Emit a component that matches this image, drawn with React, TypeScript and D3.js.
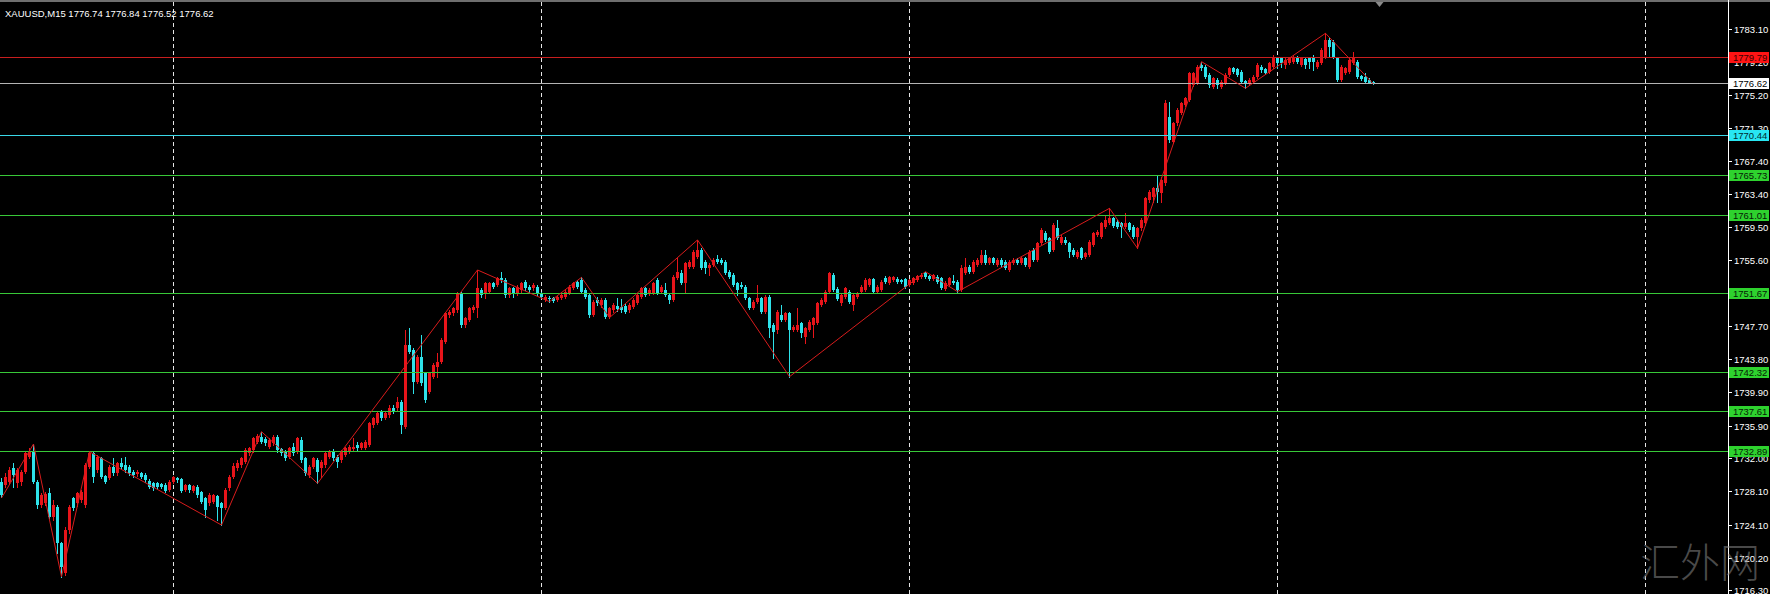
import React from 'react';
import * as d3 from 'd3';

// ---- data -------------------------------------------------------------
const symbol = 'XAUUSD';
const timeframe = 'M15';

const opens = [
  1729.24,1728.84,1729.24,1730.83,1729.04,1729.24,1730.43,1732.21,1732.81,1729.24,
  1726.46,1726.66,1727.85,1725.08,1726.27,1721.90,1718.34,1723.49,1727.26,1726.66,
  1727.06,1726.46,1731.02,1732.61,1730.63,1732.02,1729.91,1729.64,1731.02,1730.23,
  1731.42,1731.22,1731.02,1730.43,1730.15,1730.31,1730.03,1729.36,1729.04,1729.04,
  1728.92,1728.84,1728.25,1729.24,1729.64,1729.52,1728.25,1728.84,1728.17,1728.65,
  1728.05,1727.26,1726.66,1726.86,1727.54,1726.66,1726.07,1728.45,1729.83,1730.83,
  1731.22,1731.62,1732.61,1733.01,1733.99,1734.59,1734.27,1733.40,1733.80,1734.59,
  1733.09,1732.81,1732.21,1733.40,1732.81,1734.20,1732.02,1730.03,1731.02,1731.82,
  1730.83,1731.22,1732.21,1732.81,1732.21,1731.82,1732.41,1732.81,1733.09,1733.60,
  1733.20,1733.20,1733.60,1735.98,1736.18,1737.57,1736.77,1737.17,1737.96,1737.96,
  1738.75,1735.78,1745.50,1744.90,1741.13,1744.11,1742.13,1739.95,1741.73,1742.92,
  1743.51,1745.89,1749.06,1749.26,1749.66,1751.64,1747.87,1748.47,1749.66,1749.86,
  1752.04,1751.64,1751.84,1752.83,1752.63,1753.43,1753.23,1751.44,1752.24,1751.64,
  1752.04,1753.03,1752.43,1752.24,1752.43,1751.64,1750.85,1751.13,1751.05,1750.85,
  1751.05,1751.25,1751.64,1752.24,1753.03,1753.23,1752.04,1751.44,1749.06,1750.85,
  1750.25,1750.85,1748.87,1749.66,1750.13,1750.06,1750.13,1749.66,1750.06,1750.45,
  1751.25,1752.24,1751.64,1751.64,1753.23,1751.84,1752.04,1751.44,1750.85,1753.43,
  1754.02,1752.83,1754.81,1754.81,1756.00,1756.80,1755.41,1754.62,1755.01,1755.69,
  1755.61,1755.41,1754.22,1753.82,1752.83,1752.63,1752.43,1751.05,1749.86,1750.65,
  1751.05,1749.46,1751.25,1747.88,1747.28,1749.06,1748.47,1749.26,1747.28,1747.28,
  1748.07,1746.49,1747.28,1747.88,1748.07,1750.25,1750.65,1751.84,1753.82,1752.20,
  1750.45,1751.24,1751.84,1750.25,1751.24,1751.84,1752.04,1752.63,1753.31,1751.84,
  1752.04,1753.43,1752.91,1753.23,1753.31,1753.23,1753.31,1752.63,1752.83,1753.23,
  1753.54,1754.02,1753.70,1753.31,1753.62,1753.43,1752.12,1752.63,1753.15,1753.03,
  1752.04,1754.02,1754.81,1754.22,1755.01,1755.21,1756.20,1755.21,1755.80,1755.01,
  1755.61,1755.41,1754.42,1755.21,1755.61,1755.21,1755.80,1754.81,1756.80,1755.61,
  1757.59,1758.86,1758.18,1756.80,1759.37,1757.59,1757.98,1757.59,1756.80,1756.00,
  1756.99,1756.00,1756.20,1757.39,1758.58,1758.38,1759.57,1759.97,1760.56,1760.17,
  1759.97,1759.57,1759.97,1759.57,1758.38,1759.37,1759.97,1762.74,1763.14,1764.13,
  1763.54,1764.73,1772.66,1769.68,1771.86,1773.05,1774.04,1774.64,1776.42,1776.62,
  1778.80,1778.60,1777.61,1776.23,1777.02,1776.23,1776.62,1777.61,1778.41,1778.29,
  1778.01,1776.90,1776.62,1776.82,1777.42,1778.60,1778.29,1778.01,1778.60,1779.60,
  1779.60,1778.80,1779.00,1779.20,1779.71,1778.80,1779.48,1779.60,1779.60,1778.60,
  1779.00,1779.79,1781.78,1781.58,1779.60,1777.02,1777.81,1778.01,1779.00,1779.20,
  1777.49,1777.34,1777.02,1776.74,
];

const highs = [
  1729.64,1730.23,1731.02,1731.42,1730.83,1730.63,1732.81,1733.20,1733.72,1729.44,
  1727.85,1728.05,1728.45,1727.06,1726.46,1722.10,1723.89,1726.46,1727.46,1728.05,
  1728.25,1731.42,1732.81,1732.81,1732.41,1732.21,1730.03,1731.22,1732.02,1731.62,
  1732.02,1732.13,1731.22,1730.63,1730.63,1730.43,1730.23,1729.52,1729.20,1729.24,
  1729.04,1729.04,1729.44,1729.91,1729.76,1729.64,1728.96,1728.96,1728.84,1728.80,
  1728.17,1727.46,1727.85,1727.77,1727.69,1726.86,1728.45,1730.03,1731.42,1731.82,
  1732.21,1733.20,1733.40,1734.59,1734.91,1735.19,1734.59,1734.39,1734.75,1734.79,
  1733.24,1733.01,1733.40,1733.88,1734.59,1734.59,1732.21,1731.22,1732.21,1732.02,
  1731.82,1732.81,1733.01,1733.09,1732.41,1733.01,1733.40,1733.60,1734.39,1733.99,
  1733.96,1734.20,1736.38,1736.97,1737.57,1737.76,1737.57,1738.36,1738.36,1739.35,
  1738.95,1747.28,1747.48,1745.10,1744.31,1746.69,1742.32,1742.32,1743.31,1744.50,
  1746.29,1749.46,1749.66,1750.06,1751.84,1751.84,1748.87,1750.06,1750.25,1754.42,
  1752.24,1753.03,1753.03,1753.03,1753.62,1754.22,1753.43,1752.43,1752.43,1752.63,
  1753.03,1753.23,1752.63,1752.83,1752.63,1751.84,1751.44,1751.32,1751.17,1751.36,
  1751.64,1752.04,1752.63,1753.03,1753.23,1753.54,1752.24,1751.64,1750.85,1751.25,
  1751.05,1751.05,1750.06,1750.45,1751.05,1750.93,1750.37,1750.45,1751.05,1751.64,
  1752.43,1752.43,1752.24,1753.03,1753.43,1752.63,1752.83,1751.64,1753.82,1755.80,
  1754.42,1755.41,1755.61,1756.80,1757.99,1756.99,1755.61,1755.21,1755.80,1756.20,
  1755.80,1755.61,1754.42,1754.02,1753.03,1753.03,1752.63,1751.25,1750.85,1752.63,
  1751.25,1751.44,1751.44,1748.07,1749.66,1750.25,1749.46,1749.46,1747.88,1749.86,
  1748.27,1747.68,1748.47,1748.87,1750.65,1751.05,1752.04,1754.22,1754.10,1752.40,
  1751.64,1752.43,1752.04,1751.64,1751.84,1752.63,1753.43,1753.50,1753.50,1752.63,
  1753.23,1753.70,1753.70,1753.70,1753.54,1753.39,1753.46,1753.39,1753.62,1753.86,
  1754.02,1754.22,1753.86,1753.98,1753.78,1753.58,1753.07,1753.58,1753.82,1753.23,
  1755.01,1755.80,1755.01,1755.61,1755.80,1756.80,1756.80,1756.00,1756.00,1755.80,
  1755.80,1755.61,1755.61,1755.80,1755.80,1756.00,1756.00,1756.80,1756.99,1757.79,
  1759.37,1759.06,1758.38,1759.97,1760.37,1758.58,1758.38,1757.79,1756.99,1756.80,
  1757.19,1756.60,1757.98,1758.98,1759.17,1760.17,1760.96,1761.75,1760.76,1760.37,
  1760.17,1761.16,1760.17,1759.77,1759.57,1760.56,1763.14,1763.93,1764.33,1765.72,
  1765.52,1774.64,1774.44,1772.06,1773.65,1774.44,1775.04,1778.01,1778.01,1778.80,
  1779.20,1778.80,1777.81,1777.42,1777.22,1777.02,1777.81,1778.60,1778.60,1778.49,
  1778.21,1777.02,1777.22,1777.61,1779.00,1778.80,1778.49,1779.20,1779.99,1779.79,
  1779.79,1779.60,1779.79,1779.99,1779.87,1779.79,1779.67,1779.79,1779.99,1779.40,
  1780.79,1782.57,1782.17,1781.78,1779.79,1778.80,1778.60,1779.60,1780.39,1779.40,
  1777.61,1777.81,1777.22,1776.84,
];

const lows = [
  1727.46,1728.65,1729.04,1728.65,1728.65,1728.84,1730.23,1732.02,1729.04,1726.07,
  1726.19,1726.46,1724.88,1724.68,1720.72,1717.94,1718.14,1723.09,1725.87,1726.34,
  1726.86,1726.19,1730.83,1729.24,1730.43,1729.64,1729.04,1729.52,1730.03,1730.03,
  1730.83,1730.43,1730.03,1729.83,1729.91,1729.64,1729.24,1728.45,1728.25,1728.45,
  1728.45,1728.05,1728.13,1729.04,1729.24,1728.05,1728.13,1728.05,1728.05,1727.46,
  1726.66,1725.08,1726.46,1726.66,1724.68,1724.08,1725.95,1728.25,1729.64,1730.63,
  1731.02,1731.42,1732.41,1732.81,1733.80,1733.80,1733.60,1733.20,1733.60,1732.81,
  1732.41,1731.82,1732.02,1732.41,1732.69,1731.62,1730.03,1729.83,1730.83,1729.04,
  1729.83,1731.02,1732.02,1731.82,1731.02,1731.62,1732.29,1732.69,1732.93,1733.01,
  1733.09,1733.09,1733.48,1735.78,1736.06,1736.57,1736.65,1736.97,1737.37,1737.76,
  1734.99,1735.58,1744.50,1739.75,1740.94,1740.74,1738.75,1739.75,1741.53,1741.73,
  1743.31,1745.69,1748.87,1749.06,1749.46,1747.60,1747.68,1748.39,1749.46,1748.87,
  1751.25,1751.05,1751.72,1752.24,1752.51,1753.03,1751.25,1751.25,1751.25,1751.44,
  1751.84,1752.04,1751.84,1752.04,1751.44,1751.05,1750.77,1750.65,1750.65,1750.73,
  1750.93,1751.13,1751.52,1752.12,1752.24,1751.72,1751.05,1748.87,1748.95,1750.25,
  1750.06,1748.67,1748.75,1749.46,1749.58,1749.46,1749.26,1749.46,1749.94,1750.33,
  1751.13,1751.32,1751.44,1751.52,1751.52,1751.72,1751.32,1750.45,1750.73,1753.31,
  1752.71,1751.84,1754.70,1754.70,1755.88,1754.50,1754.02,1753.82,1754.89,1755.29,
  1755.09,1753.90,1753.50,1752.51,1751.44,1752.24,1750.93,1749.74,1749.74,1750.53,
  1749.34,1749.34,1746.49,1743.91,1746.88,1748.35,1748.35,1741.73,1747.16,1747.16,
  1746.49,1745.69,1747.16,1746.49,1747.95,1750.13,1750.53,1751.72,1751.92,1750.80,
  1750.25,1751.05,1750.53,1749.66,1751.05,1751.72,1751.92,1752.51,1751.72,1751.72,
  1751.92,1752.83,1752.75,1753.11,1752.91,1752.91,1752.32,1752.51,1752.71,1753.11,
  1753.43,1753.43,1753.19,1753.19,1752.91,1752.12,1752.00,1752.51,1752.71,1751.84,
  1751.92,1753.90,1754.10,1754.10,1754.89,1755.09,1755.09,1755.09,1755.13,1754.89,
  1754.89,1754.50,1754.30,1755.09,1755.09,1755.09,1754.89,1754.69,1755.49,1755.49,
  1757.47,1757.87,1756.48,1756.68,1758.06,1757.47,1757.47,1756.00,1756.08,1755.88,
  1755.69,1755.88,1756.08,1757.27,1758.46,1758.26,1759.45,1759.85,1759.53,1759.45,
  1758.38,1759.45,1759.06,1758.18,1757.00,1759.17,1759.77,1762.55,1762.55,1762.55,
  1762.55,1764.53,1769.68,1769.56,1771.66,1772.93,1773.93,1774.52,1776.30,1776.50,
  1778.21,1777.30,1776.23,1776.11,1776.03,1776.03,1776.50,1777.49,1777.89,1777.49,
  1776.62,1776.03,1776.50,1776.70,1777.30,1778.01,1777.69,1777.89,1778.49,1778.41,
  1778.60,1778.41,1778.88,1779.08,1779.08,1778.68,1778.41,1778.41,1778.21,1778.49,
  1778.88,1779.67,1779.79,1779.67,1776.90,1776.90,1777.69,1777.89,1778.88,1777.30,
  1777.02,1776.70,1776.62,1776.52,
];

const closes = [
  1727.65,1729.83,1730.63,1730.03,1730.63,1730.43,1732.61,1732.81,1729.24,1726.46,
  1727.65,1727.77,1725.08,1726.46,1721.90,1719.13,1723.49,1726.27,1726.07,1727.85,
  1728.05,1731.22,1732.61,1729.83,1732.21,1729.83,1729.24,1731.02,1730.23,1731.42,
  1731.02,1730.63,1730.23,1730.03,1730.43,1729.83,1729.44,1728.65,1728.45,1728.65,
  1728.65,1728.17,1729.24,1729.76,1729.44,1728.17,1728.84,1728.25,1728.72,1727.65,
  1726.86,1725.87,1727.65,1727.65,1726.19,1726.07,1728.25,1729.83,1731.10,1731.50,
  1732.02,1733.01,1733.20,1734.39,1734.67,1733.99,1733.80,1734.20,1734.59,1733.01,
  1732.61,1732.02,1733.20,1732.61,1734.39,1731.82,1730.23,1731.02,1732.02,1730.43,
  1731.62,1732.61,1732.81,1732.02,1731.62,1732.81,1733.20,1733.40,1733.40,1733.20,
  1733.80,1733.99,1736.18,1736.77,1737.37,1736.77,1737.37,1737.96,1737.57,1738.75,
  1735.98,1745.50,1744.70,1741.13,1744.11,1740.94,1738.95,1742.13,1743.12,1743.51,
  1746.09,1749.26,1749.46,1749.86,1751.64,1747.87,1748.67,1749.86,1750.06,1752.24,
  1751.44,1752.83,1752.83,1752.43,1753.43,1753.23,1751.44,1752.24,1751.64,1752.43,
  1752.83,1752.24,1752.04,1752.63,1751.64,1751.25,1751.25,1750.93,1750.77,1751.25,
  1751.44,1751.84,1752.43,1752.83,1752.43,1751.84,1751.25,1749.06,1750.65,1750.45,
  1750.85,1748.87,1749.86,1750.25,1749.74,1749.66,1749.46,1750.25,1750.85,1751.44,
  1752.24,1751.44,1752.04,1752.83,1751.64,1752.43,1751.44,1750.85,1753.63,1754.22,
  1752.83,1755.21,1755.41,1756.60,1756.80,1754.62,1754.62,1755.01,1755.61,1755.41,
  1755.21,1754.02,1753.63,1752.63,1752.04,1752.43,1751.05,1749.86,1750.65,1751.05,
  1749.46,1751.25,1747.48,1747.08,1749.46,1748.47,1749.26,1747.28,1747.68,1747.88,
  1746.88,1747.48,1748.27,1748.67,1750.45,1750.85,1751.84,1754.02,1752.04,1751.00,
  1751.44,1752.24,1750.65,1751.44,1751.64,1752.43,1753.23,1753.31,1751.84,1752.43,
  1753.03,1753.03,1753.54,1753.54,1753.03,1753.03,1752.43,1753.23,1753.43,1753.70,
  1753.82,1753.54,1753.31,1753.82,1753.03,1752.24,1752.91,1753.43,1752.83,1752.04,
  1754.62,1754.81,1754.22,1755.41,1755.61,1756.20,1755.21,1755.80,1755.29,1755.61,
  1755.01,1754.62,1755.41,1755.61,1755.21,1755.80,1755.01,1756.60,1755.61,1757.59,
  1759.17,1757.98,1756.60,1759.77,1758.18,1758.38,1757.59,1756.60,1756.20,1756.60,
  1755.80,1756.40,1757.79,1758.78,1758.98,1759.97,1760.37,1760.56,1759.65,1759.57,
  1759.57,1759.97,1759.17,1758.38,1759.37,1760.37,1762.94,1763.74,1764.13,1763.74,
  1765.12,1774.24,1769.88,1771.86,1773.45,1774.24,1774.84,1777.81,1777.81,1778.60,
  1778.41,1777.42,1776.42,1777.22,1776.42,1776.82,1777.61,1778.41,1778.01,1777.61,
  1776.82,1776.62,1777.02,1777.42,1778.80,1778.21,1777.81,1779.00,1779.79,1779.00,
  1779.00,1779.40,1779.60,1779.79,1779.20,1779.60,1778.80,1779.20,1779.20,1779.20,
  1780.59,1781.78,1780.98,1779.79,1777.02,1778.60,1778.41,1779.40,1779.60,1777.42,
  1777.10,1776.82,1776.70,1776.62,
];

// ZigZag pivots: bar index and price
const zigzagBars = [0, 8, 15, 22, 55, 65, 79, 119, 137, 145, 152, 174, 197, 231, 239, 277, 284, 300, 311, 331, 343];
const zigzagPrices = [
  1727.3, 1733.72, 1717.94, 1732.81, 1724.08, 1735.19, 1729.04, 1754.42, 1750.65, 1753.54,
  1748.75, 1757.99, 1741.73, 1754.22, 1751.84, 1761.75, 1757.0, 1779.2, 1776.03, 1782.57, 1776.52,
];

// Horizontal price levels: ask, bid, pivot, then support/resistance levels
const levelPrices = [1779.79, 1776.62, 1770.44, 1765.73, 1761.01, 1751.67, 1742.32, 1737.61, 1732.89];

const axisTicks = [
  1783.1, 1779.2, 1775.2, 1771.3, 1767.4, 1763.4, 1759.5, 1755.6, 1751.7,
  1747.7, 1743.8, 1739.9, 1735.9, 1732.0, 1728.1, 1724.1, 1720.2, 1716.3,
];

// Day separators (bar indices)
const separatorBars = [43, 135, 227, 319, 411];

const watermark = '汇外网';

// ---- styles -----------------------------------------------------------
const W = 1770;
const H = 594;
const AXIS_X = 1728;
const BULL = '#e8141a';
const BEAR = '#2ee2ea';
const GREEN_LEVEL = { line: '#38c838', box: '#2ed22e', text: '#062006' };
const LEVEL_STYLES = [
  { line: '#c81e1e', box: '#ff1414', text: '#3a0000' },
  { line: '#b4b4b4', box: '#ffffff', text: '#000000' },
  { line: '#3ad8e8', box: '#28e6f2', text: '#002a2e' },
  GREEN_LEVEL, GREEN_LEVEL, GREEN_LEVEL, GREEN_LEVEL, GREEN_LEVEL, GREEN_LEVEL,
];
const FONT = '"Liberation Sans", Arial, sans-serif';

export default function App() {
  const x = d3.scaleLinear().domain([0, 1]).range([1.3, 5.3]);
  const y = d3.scaleLinear().domain([1715.88, 1786.53]).range([H, 0]);

  const n = closes.length;
  const last = n - 1;

  const zigzagPath = d3
    .line<number>()
    .x((i) => Math.round(x(zigzagBars[i])) + 0.5)
    .y((i) => y(zigzagPrices[i]))(d3.range(zigzagBars.length));

  const header = `${symbol},${timeframe}  ${opens[last].toFixed(2)} ${highs[last].toFixed(2)} ${lows[last].toFixed(2)} ${closes[last].toFixed(2)}`;

  const shiftX = Math.round(x(n + 0.5)) + 0.5;

  return (
    <div style={{ position: 'absolute', left: 0, top: 0 }}>
      <svg width={W} height={H} style={{ display: 'block', background: '#000' }}>
        <rect x={0} y={0} width={W} height={H} fill="#000" />
        <rect x={0} y={0} width={W} height={2} fill="#6e6e6e" />

        {/* day separators */}
        {separatorBars.map((b) => {
          const gx = Math.round(x(b)) + 0.5;
          return (
            <line key={b} x1={gx} x2={gx} y1={2} y2={H} stroke="#e6e6e6" strokeWidth={1} strokeDasharray="4,3" />
          );
        })}

        {/* candles */}
        <g shapeRendering="crispEdges">
          {d3.range(n).map((i) => {
            const cx = Math.round(x(i));
            const up = closes[i] >= opens[i];
            const color = up ? BULL : BEAR;
            const top = Math.round(y(Math.max(opens[i], closes[i])));
            const bot = Math.round(y(Math.min(opens[i], closes[i])));
            const hi = Math.round(y(highs[i]));
            const lo = Math.round(y(lows[i]));
            return (
              <g key={i}>
                <line x1={cx + 0.5} x2={cx + 0.5} y1={hi} y2={lo + 1} stroke={color} strokeWidth={1} />
                <rect x={cx - 1} y={top} width={3} height={Math.max(1, bot - top)} fill={color} />
              </g>
            );
          })}
        </g>

        {/* horizontal levels */}
        <g shapeRendering="crispEdges">
          {levelPrices.map((p, k) => {
            const ly = Math.round(y(p)) + 0.5;
            return <line key={p} x1={0} x2={AXIS_X} y1={ly} y2={ly} stroke={LEVEL_STYLES[k].line} strokeWidth={1} />;
          })}
        </g>

        {/* zigzag */}
        <path d={zigzagPath || ''} fill="none" stroke="#d81c1c" strokeWidth={1} />

        {/* chart shift marker */}
        <path d={`M${shiftX - 4},2 L${shiftX + 4},2 L${shiftX},7 Z`} fill="#8a8a8a" />

        {/* header */}
        <text x={5} y={17} fill="#ffffff" fontFamily={FONT} fontSize={9.5}>
          {header}
        </text>

        {/* price axis */}
        <line x1={AXIS_X + 0.5} x2={AXIS_X + 0.5} y1={0} y2={H} stroke="#ffffff" strokeWidth={1} shapeRendering="crispEdges" />
        {axisTicks.map((t) => {
          const ty = Math.round(y(t)) + 0.5;
          return (
            <g key={t}>
              <line x1={AXIS_X + 1} x2={AXIS_X + 4} y1={ty} y2={ty} stroke="#ffffff" shapeRendering="crispEdges" />
              <text x={AXIS_X + 6} y={ty} dominantBaseline="central" fill="#ffffff" fontFamily={FONT} fontSize={9.5}>
                {t.toFixed(2)}
              </text>
            </g>
          );
        })}

        {/* level price boxes */}
        {levelPrices.map((p, k) => {
          const ly = Math.round(y(p)) + 0.5;
          const s = LEVEL_STYLES[k];
          return (
            <g key={`b${p}`}>
              <rect x={AXIS_X + 1} y={ly - 5.5} width={40} height={11} fill={s.box} />
              <text x={AXIS_X + 5} y={ly} dominantBaseline="central" fill={s.text} fontFamily={FONT} fontSize={9.5}>
                {p.toFixed(2)}
              </text>
            </g>
          );
        })}

        {/* watermark */}
        <text
          x={1640}
          y={577}
          fill="#8a8a8a"
          fillOpacity={0.55}
          fontFamily='"Noto Sans CJK SC", sans-serif'
          fontWeight={300}
          fontSize={40}
        >
          {watermark}
        </text>
      </svg>
    </div>
  );
}
